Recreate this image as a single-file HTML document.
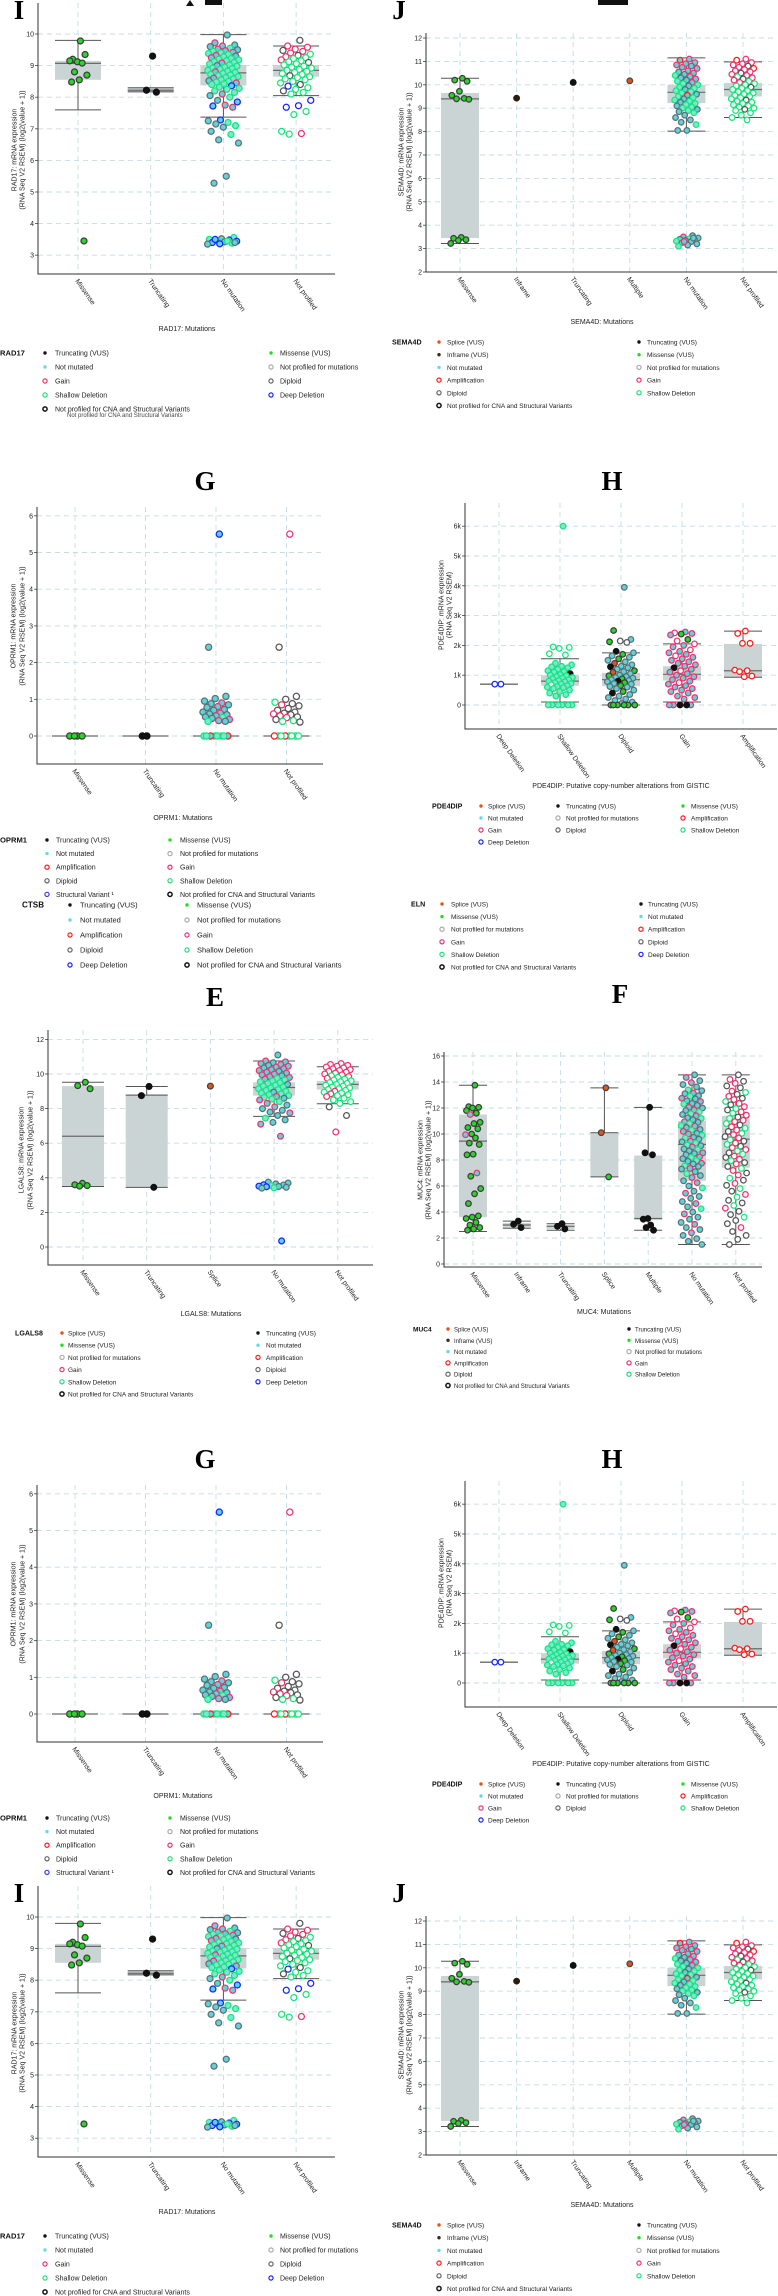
<!DOCTYPE html>
<html><head><meta charset="utf-8"><title>Expression panels</title>
<style>
html,body{margin:0;padding:0;background:#fff;}
svg{display:block;font-family:"Liberation Sans",sans-serif;}
</style></head>
<body>
<svg id="fig" width="778" height="2296" viewBox="0 0 778 2296" xmlns="http://www.w3.org/2000/svg"></svg>
<script>
// ---------- DATA ----------
const I_cats=["Missense","Truncating","No mutation","Not profiled"];
const I_box=[[7.6,8.55,9.07,9.15,9.8],[8.17,8.17,8.22,8.3,8.3],[7.37,8.37,8.77,9.02,9.98],[8.05,8.65,8.85,9.02,9.62]];
const I_vals=[
[9.78,9.2,9.35,9.12,9.15,9.08,8.8,8.7,8.55,8.48,3.45],
[9.3,8.22,8.16],
[9.97,9.72,9.65,9.62,9.6,9.55,9.52,9.5,9.47,9.45,9.42,9.4,9.38,9.35,9.32,9.3,9.28,9.25,9.22,9.2,9.18,9.15,9.12,9.1,9.08,9.05,9.02,9.0,8.98,8.95,8.92,8.9,8.88,8.85,8.82,8.8,8.78,8.75,8.72,8.7,8.68,8.65,8.62,8.6,8.58,8.55,8.52,8.5,8.48,8.45,8.42,8.4,8.36,8.32,8.28,8.25,8.2,8.15,8.1,8.05,8.0,7.9,7.85,7.75,7.72,7.68,7.28,7.25,7.2,7.15,7.1,7.05,6.92,6.82,6.65,6.55,5.5,5.28,3.56,3.52,3.5,3.48,3.46,3.44,3.42,3.4,3.38,3.36,3.35,3.45,3.5,3.4],
[9.8,9.62,9.58,9.52,9.48,9.45,9.4,9.36,9.32,9.28,9.25,9.22,9.18,9.15,9.12,9.1,9.06,9.02,8.98,8.95,8.92,8.88,8.85,8.82,8.78,8.75,8.72,8.68,8.65,8.62,8.58,8.55,8.5,8.45,8.4,8.35,8.3,8.25,8.2,8.15,8.1,7.9,7.73,7.68,7.55,7.45,6.92,6.85,6.83]];
const I_codes=["mmmmmmmmmmm","ttt",
"cgcgchgcghghhhgchghhhhhhghhchhhhhhhghhhhhhhghhchhghhdhhhhhgchcdgdgdchchcchcccchchdhdcdhdchdcd",
"DGGGDGGHDGHHGHHDHHHHHHHHHHHDHHHHHHDBHHDHHBBBHHHGH"];

const J_cats=["Missense","Inframe","Truncating","Multiple","No mutation","Not profiled"];
const J_box=[[3.22,3.45,9.4,9.65,10.28],null,null,null,[8.02,9.22,9.68,10.0,11.15],[8.6,9.5,9.8,10.08,10.98]];
const J_vals=[
[10.28,10.2,10.15,9.72,9.55,9.42,9.4,9.38,3.48,3.44,3.38,3.35,3.22],
[9.43],[10.1],[10.17],
[11.1,11.05,10.95,10.9,10.85,10.8,10.75,10.7,10.6,10.55,10.5,10.45,10.4,10.35,10.3,10.25,10.2,10.15,10.1,10.05,10.0,9.95,9.9,9.85,9.8,9.75,9.7,9.65,9.6,9.55,9.5,9.45,9.4,9.35,9.3,9.25,9.2,9.15,9.1,9.05,9.0,8.95,8.9,8.85,8.8,8.7,8.6,8.5,8.4,8.3,8.05,8.05,3.55,3.5,3.45,3.42,3.4,3.38,3.35,3.32,3.3,3.25,3.2,3.15,3.1,3.45,3.3],
[11.1,11.05,10.95,10.9,10.85,10.8,10.75,10.7,10.65,10.6,10.55,10.5,10.45,10.4,10.35,10.3,10.25,10.2,10.15,10.1,10.05,10.0,9.95,9.9,9.85,9.8,9.75,9.7,9.65,9.6,9.55,9.5,9.45,9.4,9.35,9.3,9.25,9.2,9.15,9.1,9.05,9.0,8.95,8.9,8.8,8.7,8.6,8.5]];
const J_codes=["mmmmmmmmmmmmm","i","t","s",
"gagggcgggcgchgcgchghhchhchhhcahhchhchhchhchchcccchcccgchcgchcgcchcg",
"GAGGGDGAGGGDGGHGDGHGHHHDHHHHHHHHHHDHHHHHHHDHHHHH"];

const G_cats=["Missense","Truncating","No mutation","Not profiled"];
const G_box=[[0,0,0,0,0],[0,0,0,0,0],[0,0,0,0,0],[0,0,0,0,0]];
const G_vals=[[0,0,0,0],[0,0],
[5.5,2.42,1.08,1.02,0.95,0.9,0.88,0.85,0.8,0.78,0.72,0.7,0.65,0.62,0.6,0.58,0.55,0.52,0.5,0.48,0.45,0.42,0.4,0.4,0,0,0,0,0,0,0,0],
[5.5,2.42,1.08,1.0,0.92,0.88,0.85,0.82,0.75,0.7,0.65,0.62,0.6,0.58,0.55,0.52,0.5,0.45,0.42,0.4,0.38,0,0,0,0,0,0,0,0]];
const G_codes=["mmmm","tt","dccccgccgccccgccgchcgghchhhaahhh","GDDDHDGDDDDDGDGDGDHHDHHHAAHHH"];

const H_cats=["Deep Deletion","Shallow Deletion","Diploid","Gain","Amplification"];
const H_box=[[0.7,0.7,0.7,0.7,0.7],[0.1,0.65,0.8,1.0,1.55],[0,0.63,0.85,1.08,1.75],[0.1,0.82,1.03,1.3,2.05],[0.93,0.93,1.15,2.05,2.48]];
const H_vals=[[0.7,0.7],
[6.0,1.95,1.93,1.9,1.72,1.68,1.4,1.35,1.3,1.28,1.25,1.2,1.15,1.12,1.1,1.05,1.02,1.0,0.98,0.95,0.92,0.9,0.88,0.85,0.82,0.8,0.78,0.75,0.72,0.7,0.68,0.65,0.62,0.6,0.58,0.55,0.5,0.45,0.4,0.35,0.3,0,0,0,0,0,0],
[3.95,2.5,2.2,2.15,2.12,2.1,1.8,1.75,1.7,1.65,1.6,1.55,1.5,1.45,1.4,1.35,1.3,1.28,1.25,1.2,1.15,1.12,1.1,1.05,1.0,0.98,0.95,0.92,0.9,0.88,0.85,0.82,0.8,0.78,0.75,0.72,0.7,0.65,0.62,0.6,0.55,0.5,0.45,0.4,0.35,0.3,0.25,0.2,0.15,0.1,0.05,0,0,0,0,0,0],
[2.45,2.42,2.4,2.38,2.35,2.2,2.15,2.05,2.0,1.95,1.85,1.8,1.75,1.7,1.65,1.6,1.55,1.5,1.45,1.4,1.35,1.3,1.25,1.2,1.15,1.1,1.05,1.0,0.95,0.9,0.85,0.8,0.75,0.7,0.65,0.6,0.55,0.5,0.45,0.4,0.3,0.25,0.2,0,0,0,0,0],
[2.48,2.4,2.07,2.07,1.17,1.15,1.12,0.97,0.95]];
const H_codes=["BB","hHHHHHhhhhhhhhhthhhhhhhhhhhhhhHhhhhhhhhhhhhhhh",
"cmcDmDtcmccmccscctccmcsccmcccmcctcmccmccccmtcccccccmmmmmm",
"gGgmgmGGggGgggGgggggggtgGgggggggGggggggggggggtgtg","AAAAAAAAA"];

const E_cats=["Missense","Truncating","Splice","No mutation","Not profiled"];
const E_box=[[3.5,3.5,6.4,9.3,9.52],[3.45,3.45,8.78,8.78,9.28],null,[7.55,8.75,9.22,9.52,10.75],[8.28,9.1,9.4,9.6,10.42]];
const E_vals=[[9.52,9.33,9.15,3.68,3.6,3.55,3.52],[9.28,8.75,3.45],[9.3],
[11.1,10.75,10.7,10.65,10.6,10.55,10.5,10.45,10.4,10.35,10.3,10.25,10.2,10.15,10.1,10.05,10.0,9.95,9.9,9.85,9.8,9.75,9.7,9.65,9.6,9.55,9.5,9.45,9.4,9.35,9.3,9.25,9.2,9.15,9.1,9.05,9.0,8.95,8.9,8.85,8.8,8.75,8.7,8.65,8.6,8.55,8.5,8.4,8.3,8.2,8.1,8.0,7.9,7.8,7.75,7.6,7.45,7.35,7.2,7.1,6.4,3.75,3.7,3.65,3.6,3.58,3.55,3.52,3.5,3.48,3.45,3.42,3.4,0.35],
[10.6,10.55,10.5,10.45,10.4,10.35,10.3,10.25,10.2,10.15,10.1,10.05,10.0,9.95,9.9,9.85,9.8,9.75,9.7,9.65,9.6,9.55,9.5,9.45,9.4,9.35,9.3,9.25,9.2,9.15,9.1,9.05,9.0,8.95,8.9,8.85,8.8,8.75,8.7,8.6,8.5,8.4,8.3,8.1,7.6,6.65]];
const E_codes=["mmmmmmm","ttt","s",
"cggcggcggcgggcggggcgghghhhhhchhhhhhhhchhhhghchghgcgcccgchccggcccdchdcdchcdc",
"GGGGGGGGGGGGGGHGHGHHHHHHHHHHHHHHGHHGHHGHHHHDDG"];

const F_cats=["Missense","Inframe","Truncating","Splice","Multiple","No mutation","Not profiled"];
const F_box=[[2.5,3.6,9.45,11.5,13.75],[2.75,2.8,3.0,3.15,3.3],[2.6,2.7,2.9,3.0,3.1],[6.7,6.7,10.1,10.1,13.55],[2.6,3.4,3.5,8.35,12.05],[1.5,6.4,9.2,11.0,14.55],[1.5,7.4,9.6,11.4,14.55]];
const F_vals=[
[13.75,12.1,12.05,12.0,11.8,11.6,11.5,10.9,10.8,10.5,10.4,10.0,9.95,9.7,9.3,9.2,8.45,8.4,7.0,6.75,5.8,5.4,4.65,3.7,3.6,3.5,3.2,3.0,2.8,2.7,2.6],
[3.3,3.05,2.8],[3.1,2.9,2.7],[13.55,10.1,6.7],[12.05,8.55,8.4,3.5,3.45,3.0,2.8,2.6],
[14.55,14.35,14.1,13.95,13.8,13.62,13.4,13.33,13.15,13.1,12.95,12.9,12.75,12.7,12.55,12.5,12.35,12.3,12.2,12.05,12.0,11.85,11.8,11.7,11.55,11.5,11.4,11.25,11.2,11.1,10.95,10.9,10.8,10.65,10.6,10.5,10.35,10.3,10.2,10.05,10.0,9.9,9.75,9.7,9.6,9.45,9.4,9.3,9.15,9.1,9.0,8.85,8.8,8.7,8.55,8.5,8.4,8.25,8.2,8.1,7.95,7.9,7.75,7.7,7.55,7.5,7.35,7.3,7.1,6.95,6.8,6.65,6.4,6.25,6.0,5.85,5.6,5.45,5.2,5.05,4.8,4.65,4.4,4.25,4.0,3.85,3.6,3.45,3.2,3.05,2.8,2.65,2.4,2.2,1.95,1.75,1.5],
[14.55,14.2,14.05,13.9,13.7,13.55,13.3,13.2,13.05,12.9,12.75,12.65,12.5,12.35,12.25,12.1,11.95,11.85,11.7,11.6,11.45,11.3,11.2,11.05,10.95,10.8,10.7,10.55,10.45,10.3,10.2,10.05,9.95,9.8,9.7,9.55,9.45,9.3,9.2,9.05,8.95,8.8,8.7,8.55,8.45,8.3,8.2,8.05,7.95,7.8,7.7,7.5,7.35,7.2,7.0,6.85,6.6,6.45,6.2,6.05,5.8,5.6,5.35,5.15,4.9,4.7,4.5,4.3,4.05,3.8,3.6,3.35,3.1,2.8,2.5,2.2,1.9,1.5]];
const F_codes=["mmmmmmgmmmmmgmmmmmgmmmmmmmmmmmm","ttt","ttt","ssm","tttttttt",
"cgcgcchcgcchgccgchcgcgchhcgchcgchhgcchgcghchcgchhcgchcgccghchcgchcgcchcgcgchcgcccgchcgcccgccgcc",
"DGDGDDGHDGDGHGDGHDGHGDHGGHDGHGDHGDGHDGHDGGHDHGDGHDGDHGDGHDGDHDGHDDHGDDHDDGDD"];

const I_ticks=[3,4,5,6,7,8,9,10];
const J_ticks=[2,3,4,5,6,7,8,9,10,11,12];
const G_ticks=[0,1,2,3,4,5,6];
const H_ticks=[0,1,2,3,4,5,6];
const H_tickLabels=["0","1k","2k","3k","4k","5k","6k"];
const E_ticks=[0,2,4,6,8,10,12];
const F_ticks=[0,2,4,6,8,10,12,14,16];

const LEG_RAD17=["Truncating (VUS)","Missense (VUS)","Not mutated","Not profiled for mutations","Gain","Diploid","Shallow Deletion","Deep Deletion","Not profiled for CNA and Structural Variants"];
const LEG_SEMA4D=["Splice (VUS)","Truncating (VUS)","Inframe (VUS)","Missense (VUS)","Not mutated","Not profiled for mutations","Amplification","Gain","Diploid","Shallow Deletion","Not profiled for CNA and Structural Variants"];
const LEG_OPRM1=["Truncating (VUS)","Missense (VUS)","Not mutated","Not profiled for mutations","Amplification","Gain","Diploid","Shallow Deletion","Structural Variant \u00b9","Not profiled for CNA and Structural Variants"];
const LEG_CTSB=["Truncating (VUS)","Missense (VUS)","Not mutated","Not profiled for mutations","Amplification","Gain","Diploid","Shallow Deletion","Deep Deletion","Not profiled for CNA and Structural Variants"];
const LEG_PDE4DIP=["Splice (VUS)","Truncating (VUS)","Missense (VUS)","Not mutated","Not profiled for mutations","Amplification","Gain","Diploid","Shallow Deletion","Deep Deletion"];
const LEG_ELN=["Splice (VUS)","Truncating (VUS)","Missense (VUS)","Not mutated","Not profiled for mutations","Amplification","Gain","Diploid","Shallow Deletion","Deep Deletion","Not profiled for CNA and Structural Variants"];
const LEG_MUC4=["Splice (VUS)","Truncating (VUS)","Inframe (VUS)","Missense (VUS)","Not mutated","Not profiled for mutations","Amplification","Gain","Diploid","Shallow Deletion","Not profiled for CNA and Structural Variants"];

// ---------- DRAWING ----------
const NS='http://www.w3.org/2000/svg';
const svg=document.getElementById('fig');
function mk(tag,attrs,parent){const e=document.createElementNS(NS,tag);for(const k in attrs)e.setAttribute(k,attrs[k]);(parent||svg).appendChild(e);return e;}
function tx(s,attrs,parent){const e=mk('text',attrs,parent);e.textContent=s;return e;}
const STY={m:['#2bd42b','#3c3c3c'],t:['#111','#111'],s:['#e2531d','#444'],i:['#2a1d10','#2a1d10'],
c:['#5fd3dd','#5f7070'],g:['#5fd3dd','#f0336d'],h:['#7fe3d6','#12e878'],d:['#5fd3dd','#1424ff'],a:['#5fd3dd','#ff1a1a'],
G:['#fff','#f0336d'],H:['#fff','#12e878'],D:['#fff','#555'],B:['#fff','#1424ff'],A:['#fff','#ff1a1a']};
const LSTY={"Splice (VUS)":['dot','#e2531d'],"Truncating (VUS)":['dot','#111'],"Inframe (VUS)":['dot','#3a2a1a'],"Missense (VUS)":['dot','#22dd22'],
"Not mutated":['dot','#66d9e8'],"Not profiled for mutations":['ring','#aaa'],"Amplification":['ring','#ff1a1a'],"Gain":['ring','#f0336d'],
"Diploid":['ring','#666'],"Shallow Deletion":['ring','#1fe27a'],"Deep Deletion":['ring','#1424ff'],"Structural Variant \u00b9":['ring','#3a3aff'],
"Not profiled for CNA and Structural Variants":['ring','#111']};

function panel(p){
  const g=mk('g',{});
  
  
  const y=v=>p.yRef-(v-p.vRef)*p.ppu;
  const x=i=>p.cx0+i*p.step;
  p.ticks.forEach((t,k)=>{
    const gl=mk('line',{x1:p.x0,x2:p.x1,y1:y(t),y2:y(t),stroke:'#c3dde3','stroke-width':0.9,'stroke-dasharray':'5,4'},g);
    
    
    const tm=mk('line',{x1:p.x0-3,x2:p.x0,y1:y(t),y2:y(t),stroke:'#444','stroke-width':0.8},g);
    
    
    const tl=tx(p.tickLabels?p.tickLabels[k]:String(t),{x:p.x0-4,y:y(t)+2.5,'font-size':7,'text-anchor':'end',fill:'#222'},g);
    
    
  });
  p.cats.forEach((c,i)=>{
    const vl=mk('line',{x1:x(i),x2:x(i),y1:p.yTop,y2:p.yBot,stroke:'#c3dde3','stroke-width':0.9,'stroke-dasharray':'5,4'},g);
    
    
    const lx=x(i)-3, ly=p.yBot+7;
    const xl=tx(c,{x:lx,y:ly,'font-size':7,fill:'#222',transform:'rotate(55 '+lx+' '+ly+')'},g);
    
    
  });
  p.box.forEach((b,i)=>{
    if(!b)return;
    const cx=x(i),w=p.bw;
    if(b[3]>b[1]){
      const r=mk('rect',{x:cx-w,y:y(b[3]),width:2*w,height:y(b[1])-y(b[3]),fill:'#cbd4d4'},g);
      
      
    }
    const wl=mk('line',{x1:cx,x2:cx,y1:y(b[0]),y2:y(b[1]),stroke:'#555','stroke-width':1},g);
    
    
    const wh=mk('line',{x1:cx,x2:cx,y1:y(b[3]),y2:y(b[4]),stroke:'#555','stroke-width':1},g);
    
    
    [b[0],b[4]].forEach(v=>{
      const cp=mk('line',{x1:cx-w,x2:cx+w,y1:y(v),y2:y(v),stroke:'#555','stroke-width':1},g);
      
      
    });
    const md=mk('line',{x1:cx-w,x2:cx+w,y1:y(b[2]),y2:y(b[2]),stroke:'#6a6a6a','stroke-width':1.2},g);
    
    
  });
  p.vals.forEach((arr,i)=>{
    const codes=p.codes[i]||'';
    arr.forEach((v,j)=>{
      const st=STY[codes[j]]||STY[codes[0]]||STY.c;
      const off=p.jw[i]*((((j+1)*0.618034)%1)*2-1);
      const c=mk('circle',{cx:x(i)+off,cy:y(v),r:p.r,fill:st[0],stroke:st[1],'stroke-width':1.25},g);
      
      
    });
  });
  const ax=mk('path',{d:'M'+p.x0+' '+p.yTop+'V'+p.yBot+'H'+p.x1,fill:'none',stroke:'#333','stroke-width':1},g);
  
  
  const yt=mk('text',{'font-size':7,fill:'#222','text-anchor':'middle'},g);
  
  
  const t1=mk('tspan',{x:0,y:0},yt);t1.textContent=p.yt1;
  const t2=mk('tspan',{x:0,y:p.ytx2-p.ytx1},yt);t2.textContent=p.yt2;
  yt.setAttribute('transform','translate('+(p.ytx1+2.5)+' '+p.ytyc+') rotate(-90)');
  const xt=tx(p.xt,{x:p.xtx,y:p.xty,'font-size':7,fill:'#222','text-anchor':'middle'},g);
  
  
  const lt=tx(p.letter,{x:p.lx,y:p.ly,'font-size':27,'font-weight':'bold','font-family':'"Liberation Serif",serif','text-anchor':'middle',fill:'#000'},g);
  
  
}

function legend(L){
  const g=mk('g',{});
  
  
  const t=tx(L.title,{x:L.tx,y:L.y0+2.6,'font-size':L.fs+0.6,'font-weight':'bold',fill:'#111'},g);
  
  
  L.items.forEach((it,k)=>{
    const col=k%L.ncol,row=Math.floor(k/L.ncol);
    const yy=L.y0+row*L.dy;
    const s=LSTY[it]||['dot','#000'];
    const m=s[0]==='dot'?mk('circle',{cx:L.mx[col],cy:yy,r:1.7,fill:s[1]},g):mk('circle',{cx:L.mx[col],cy:yy,r:2.1,fill:'#fff',stroke:s[1],'stroke-width':it.indexOf('CNA')>=0?1.5:1.2},g);
    
    
    const e=tx(it,{x:L.txx[col],y:yy+2.5,'font-size':L.fs,fill:'#222'},g);
    
    
  });
}

function rowIJ(o,first){
  panel({name:'rad17-panel',letter:'I',lx:19,ly:o+19,x0:38,x1:335,yTop:o+3,yBot:o+274,vRef:10,yRef:o+34,ppu:31.6,cx0:78,step:72.7,
    ticks:I_ticks,cats:I_cats,box:I_box,vals:I_vals,codes:I_codes,bw:23,jw:[10,8,16,16],r:3,
    yt1:'RAD17: mRNA expression',yt2:'(RNA Seq V2 RSEM) (log2(value + 1))',ytx1:14,ytx2:22,ytyc:o+150,xt:'RAD17: Mutations',xtx:187,xty:o+331});
  panel({name:'sema4d-panel',letter:'J',lx:399,ly:o+19,x0:426,x1:777,yTop:o+33,yBot:o+272,vRef:12,yRef:o+38,ppu:23.4,cx0:460,step:56.6,
    ticks:J_ticks,cats:J_cats,box:J_box,vals:J_vals,codes:J_codes,bw:19,jw:[10,0,0,0,12,12],r:2.8,
    yt1:'SEMA4D: mRNA expression',yt2:'(RNA Seq V2 RSEM) (log2(value + 1))',ytx1:401,ytx2:409,ytyc:o+152,xt:'SEMA4D: Mutations',xtx:602,xty:o+324});
  legend({name:'rad17-legend',title:'RAD17',tx:0,y0:o+353,dy:14,ncol:2,mx:[45,271],txx:[55,280],fs:7,items:LEG_RAD17});
  legend({name:'sema4d-legend',title:'SEMA4D',tx:392,y0:o+342,dy:12.7,ncol:2,mx:[439,639],txx:[447,647],fs:6.5,items:LEG_SEMA4D});
  if(first){
    const ex=tx('Not profiled for CNA and Structural Variants',{x:67,y:o+417,'font-size':6,fill:'#444'});
    
    
    const p1=mk('path',{d:'M186 6L190 0L194 6Z M205 0H222V5H205Z M598 0H628V5H598Z',fill:'#111'});
    
    
  }
}
function rowGH(o){
  panel({name:'oprm1-panel',letter:'G',lx:205,ly:o+490,x0:37,x1:323,yTop:o+507,yBot:o+764,vRef:0,yRef:o+736,ppu:36.7,cx0:75,step:70.5,
    ticks:G_ticks,cats:G_cats,box:G_box,vals:G_vals,codes:G_codes,bw:23,jw:[10,6,14,14],r:3.1,
    yt1:'OPRM1: mRNA expression',yt2:'(RNA Seq V2 RSEM) (log2(value + 1))',ytx1:13,ytx2:22,ytyc:o+626,xt:'OPRM1: Mutations',xtx:183,xty:o+820});
  panel({name:'pde4dip-panel',letter:'H',lx:612,ly:o+490,x0:465,x1:777,yTop:o+503,yBot:o+729,vRef:0,yRef:o+705,ppu:29.8,cx0:499,step:61,
    ticks:H_ticks,tickLabels:H_tickLabels,cats:H_cats,box:H_box,vals:H_vals,codes:H_codes,bw:19,jw:[8,13,14,14,10],r:2.8,
    yt1:'PDE4DIP: mRNA expression',yt2:'(RNA Seq V2 RSEM)',ytx1:441,ytx2:449,ytyc:o+605,xt:'PDE4DIP: Putative copy-number alterations from GISTIC',xtx:621,xty:o+788});
  legend({name:'oprm1-legend',title:'OPRM1',tx:0,y0:o+840,dy:13.6,ncol:2,mx:[47,170],txx:[56,180],fs:7,items:LEG_OPRM1});
  legend({name:'pde4dip-legend',title:'PDE4DIP',tx:432,y0:o+806,dy:12,ncol:3,mx:[481,558,683],txx:[488,566,691],fs:6.5,items:LEG_PDE4DIP});
}

rowIJ(0,true);
rowGH(0);
legend({name:'ctsb-legend',title:'CTSB',tx:22,y0:905,dy:15,ncol:2,mx:[70,187],txx:[80,197],fs:7.5,items:LEG_CTSB});
legend({name:'eln-legend',title:'ELN',tx:411,y0:904,dy:12.6,ncol:2,mx:[442,641],txx:[451,648],fs:6.5,items:LEG_ELN});
panel({name:'lgals8-panel',letter:'E',lx:215,ly:1006,x0:48,x1:373,yTop:1030,yBot:1265,vRef:0,yRef:1247,ppu:17.3,cx0:83,step:63.7,
  ticks:E_ticks,cats:E_cats,box:E_box,vals:E_vals,codes:E_codes,bw:21,jw:[10,10,0,16,14],r:2.9,
  yt1:'LGALS8: mRNA expression',yt2:'(RNA Seq V2 RSEM) (log2(value + 1))',ytx1:21,ytx2:30,ytyc:1150,xt:'LGALS8: Mutations',xtx:211,xty:1316});
panel({name:'muc4-panel',letter:'F',lx:620,ly:1003,x0:444,x1:762,yTop:1052,yBot:1267,vRef:0,yRef:1264,ppu:13,cx0:473,step:43.8,
  ticks:F_ticks,cats:F_cats,box:F_box,vals:F_vals,codes:F_codes,bw:14,jw:[8,6,6,6,6,11,11],r:2.8,
  yt1:'MUC4: mRNA expression',yt2:'(RNA Seq V2 RSEM) (log2(value + 1))',ytx1:420,ytx2:428,ytyc:1160,xt:'MUC4: Mutations',xtx:604,xty:1314});
legend({name:'lgals8-legend',title:'LGALS8',tx:15,y0:1333,dy:12.2,ncol:2,mx:[62,258],txx:[68,266],fs:6.5,items:LEG_ELN});
legend({name:'muc4-legend',title:'MUC4',tx:413,y0:1329,dy:11.3,ncol:2,mx:[448,629],txx:[454,635],fs:6,items:LEG_MUC4});
rowGH(978);
rowIJ(1883,false);
</script>
</body></html>
